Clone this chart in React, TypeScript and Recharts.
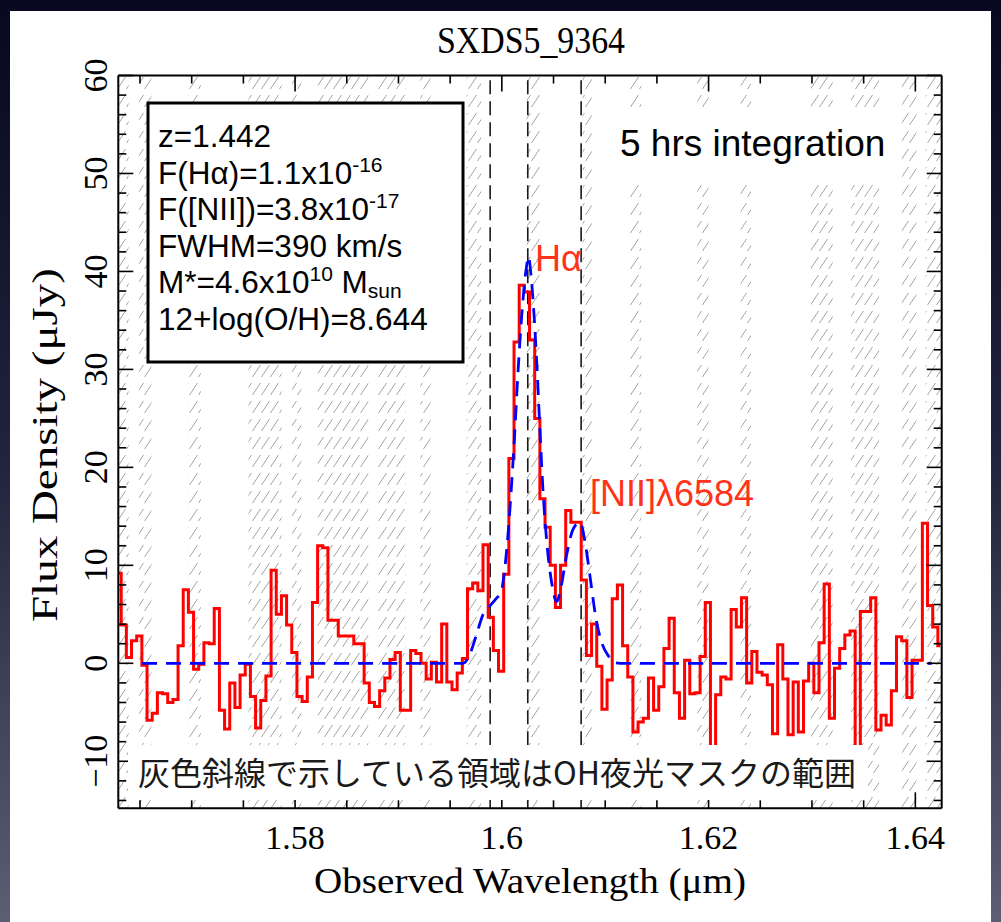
import React from "react";
import {
  ComposedChart,
  Line,
  XAxis,
  YAxis,
  ReferenceArea,
  ReferenceLine,
} from "recharts";

// spectrum: 0.0005 um bins, flux density in uJy
const binStart = 1.56293;
const binWidth = 0.0005;
const flux = [
  9.2, 3.9, 0.6, 2.3, 2.8, -0.2, -5.8, -5.1, -3.0, -3.1,
  -4.0, -3.7, 1.8, 7.5, 5.2, -0.6, -0.1, 2.1, 2.0, 5.6,
  -4.8, -6.7, -2.0, -4.5, -1.2, -0.1, -3.4, -6.6, -3.8, -1.3,
  9.5, 5.0, 6.9, 3.9, 1.1, -3.4, -3.9, -1.4, 6.2, 12.0,
  11.8, 4.4, 4.4, 2.8, 2.8, 2.8, 2.0, 2.0, -2.0, -4.0,
  -4.4, -2.8, -1.5, 0.4, 1.1, -4.8, -4.8, 1.3, 1.0, 0.0,
  -1.6, 0.1, -1.9, 4.0, -1.9, -2.7, -1.0, 0.5, 7.6, 8.2,
  7.4, 12.1, 4.7, 1.3, -0.8, 9.1, 20.9, 32.8, 38.6, 37.9,
  33.0, 25.0, 16.8, 13.9, 10.0, 5.7, 10.0, 15.6, 14.4, 14.4,
  8.5, 0.8, 4.0, -0.3, -4.7, -1.7, 6.6, 8.0, 1.8, -1.4,
  -7.0, -6.0, -5.6, -1.5, -4.8, -2.4, 1.5, 4.6, -3.0, -5.6,
  0.3, -3.1, -3.0, 0.7, 6.2, -12.0, -3.2, -1.4, -1.6, 5.5,
  3.7, 6.7, -2.0, 1.2, -0.9, -1.2, -2.2, -7.2, 1.9, -1.6,
  -7.3, -1.9, -7.0, -1.8, 0.0, -3.0, 2.1, 8.1, -5.6, -0.5,
  1.5, 2.9, 3.3, -12.0, 5.3, 5.3, 6.7, -6.8, -5.3, -6.3,
  -2.8, 2.7, 2.3, -3.5, 0.3, 0.3, 14.3, 5.9, 3.7, 1.8,
];

// fitted model (Halpha + [NII] doublet)
const modelWave = [
  1.5652, 1.59626, 1.59693, 1.59751, 1.59819, 1.59887, 1.59945, 1.59993,
  1.60032, 1.6008, 1.60119, 1.60158, 1.60196, 1.60235, 1.60259, 1.60283,
  1.60312, 1.60341, 1.6037, 1.60399, 1.60438, 1.60486, 1.6053, 1.60573,
  1.60622, 1.6069, 1.60757, 1.60806, 1.60854, 1.60912, 1.6097, 1.61028,
  1.61086, 1.61144, 1.6416,
];
const modelFlux = [
  0, 0, 1.0, 2.8, 5.0, 5.9, 6.6, 7.3,
  10.0, 16.0, 22.5, 30.0, 36.0, 40.2, 41.5, 39.5,
  35.5, 30.0, 23.5, 17.5, 12.0, 8.0, 6.3, 7.8,
  10.8, 13.7, 14.4, 12.3, 8.8, 4.5, 2.0, 0.8,
  0.1, 0, 0,
];

// OH sky-line mask ranges (um)
const maskBands: [number, number][] = [
  [1.5629, 1.5639], [1.5649, 1.5661], [1.5697, 1.5709], [1.5755, 1.5787],
  [1.5797, 1.5806], [1.5822, 1.5871], [1.588, 1.5907], [1.5921, 1.5931],
  [1.5966, 1.598], [1.6024, 1.6037], [1.6078, 1.6087], [1.6124, 1.6135],
  [1.6189, 1.62], [1.6231, 1.6241], [1.6299, 1.632], [1.6338, 1.6365],
  [1.6387, 1.6401], [1.641, 1.64255],
];

// [NII]6548, Halpha, [NII]6584 at z=1.442
const lineWaves = [1.59887, 1.60251, 1.60767];

const xDomain = [1.5629, 1.64255];
const yDomain = [-14.8, 60];
const xTicks = [
  1.565, 1.57, 1.575, 1.58, 1.585, 1.59, 1.595, 1.6, 1.605, 1.61, 1.615,
  1.62, 1.625, 1.63, 1.635, 1.64,
];
const xLabels = [1.58, 1.6, 1.62, 1.64];
const yTicks = [
  -14, -12, -10, -8, -6, -4, -2, 0, 2, 4, 6, 8, 10, 12, 14, 16, 18, 20, 22,
  24, 26, 28, 30, 32, 34, 36, 38, 40, 42, 44, 46, 48, 50, 52, 54, 56, 58, 60,
];
const yLabels = [-10, 0, 10, 20, 30, 40, 50, 60];

const spectrum = flux.map((f, i) => ({ w: binStart + i * binWidth, f }));
const model = modelWave.map((w, i) => ({ w, m: modelFlux[i] }));

const serif = "'Liberation Serif', 'DejaVu Serif', serif";
const sans = "'Liberation Sans', Arial, sans-serif";
const isIn = (list: number[], v: number) => list.some((t) => Math.abs(t - v) < 1e-9);

const BottomTick = (p: any) => {
  const major = isIn(xLabels, p.payload.value);
  return (
    <g>
      <line x1={p.x} x2={p.x} y1={p.y} y2={p.y - (major ? 16 : 8)} stroke="#000" strokeWidth={1.6} />
      {major && (
        <text x={p.x} y={p.y + 41} textAnchor="middle" fontFamily={serif} fontSize={34} fill="#000">
          {String(p.payload.value)}
        </text>
      )}
    </g>
  );
};

const TopTick = (p: any) => {
  const major = isIn(xLabels, p.payload.value);
  return <line x1={p.x} x2={p.x} y1={p.y} y2={p.y + (major ? 16 : 8)} stroke="#000" strokeWidth={1.6} />;
};

const LeftTick = (p: any) => {
  const v = p.payload.value;
  const major = isIn(yLabels, v);
  const tx = p.x - 23;
  return (
    <g>
      <line x1={p.x} x2={p.x + (major ? 15 : 8)} y1={p.y} y2={p.y} stroke="#000" strokeWidth={1.6} />
      {major && (
        <text
          x={tx}
          y={p.y}
          transform={`rotate(-90 ${tx} ${p.y})`}
          textAnchor="middle"
          dominantBaseline="central"
          fontFamily={serif}
          fontSize={34}
          fill="#000"
        >
          {v < 0 ? `\u2212${Math.abs(v)}` : String(v)}
        </text>
      )}
    </g>
  );
};

const RightTick = (p: any) => {
  const major = isIn(yLabels, p.payload.value);
  return <line x1={p.x} x2={p.x - (major ? 15 : 8)} y1={p.y} y2={p.y} stroke="#000" strokeWidth={1.6} />;
};

const axisLine = { stroke: "#000", strokeWidth: 2 };

export default function App() {
  return (
    <div
      style={{
        position: "absolute",
        left: 0,
        top: 0,
        width: 1001,
        height: 922,
        background: "linear-gradient(180deg, #080820 0%, #20243c 50%, #5c5e72 100%)",
        overflow: "hidden",
      }}
    >
      <div style={{ position: "absolute", left: 10, top: 11, width: 981, height: 911, background: "#fff" }} />

      <svg width={0} height={0} style={{ position: "absolute" }}>
        <defs>
          <pattern id="ohHatch" patternUnits="userSpaceOnUse" width={9} height={18}>
            <line x1={0.5} y1={17} x2={8.5} y2={5} stroke="#a4a4a4" strokeWidth={1} />
          </pattern>
        </defs>
      </svg>

      <div style={{ position: "absolute", left: 0, top: 0 }}>
        <ComposedChart
          width={1001}
          height={922}
          margin={{ top: 74.5, right: 58.3, bottom: 112.7, left: 117.3 }}
        >
          <XAxis
            xAxisId="b"
            dataKey="w"
            type="number"
            domain={xDomain}
            allowDataOverflow
            ticks={xTicks}
            interval={0}
            height={1}
            tickSize={0}
            tickMargin={0}
            tickLine={false}
            tick={<BottomTick />}
            axisLine={axisLine}
          />
          <XAxis
            xAxisId="t"
            orientation="top"
            dataKey="w"
            type="number"
            domain={xDomain}
            allowDataOverflow
            ticks={xTicks}
            interval={0}
            height={1}
            tickSize={0}
            tickMargin={0}
            tickLine={false}
            tick={<TopTick />}
            axisLine={axisLine}
          />
          <YAxis
            yAxisId="l"
            type="number"
            domain={yDomain}
            allowDataOverflow
            ticks={yTicks}
            interval={0}
            width={1}
            tickSize={0}
            tickMargin={0}
            tickLine={false}
            tick={<LeftTick />}
            axisLine={axisLine}
          />
          <YAxis
            yAxisId="r"
            orientation="right"
            type="number"
            domain={yDomain}
            allowDataOverflow
            ticks={yTicks}
            interval={0}
            width={1}
            tickSize={0}
            tickMargin={0}
            tickLine={false}
            tick={<RightTick />}
            axisLine={axisLine}
          />

          {maskBands.map(([a, b], i) => (
            <ReferenceArea
              key={`m${i}`}
              xAxisId="b"
              yAxisId="l"
              x1={a}
              x2={b}
              fill="url(#ohHatch)"
              fillOpacity={1}
              stroke="none"
            />
          ))}
          {lineWaves.map((w, i) => (
            <ReferenceLine
              key={`l${i}`}
              xAxisId="b"
              yAxisId="l"
              x={w}
              stroke="#1a1a1a"
              strokeWidth={1.6}
              strokeDasharray="14 7"
            />
          ))}

          <Line
            xAxisId="b"
            yAxisId="l"
            data={spectrum}
            dataKey="f"
            type="step"
            stroke="#ff0000"
            strokeWidth={3}
            dot={false}
            activeDot={false}
            isAnimationActive={false}
          />
          <Line
            xAxisId="b"
            yAxisId="l"
            data={model}
            dataKey="m"
            type="monotone"
            stroke="#0000ff"
            strokeWidth={2.8}
            strokeDasharray="15 9"
            dot={false}
            activeDot={false}
            isAnimationActive={false}
          />
        </ComposedChart>
      </div>

      <svg
        width={1001}
        height={922}
        style={{ position: "absolute", left: 0, top: 0, pointerEvents: "none" }}
      >
        <text x={531} y={53} textAnchor="middle" fontFamily={serif} fontSize={38} textLength={188} lengthAdjust="spacingAndGlyphs">
          SXDS5_9364
        </text>
        <text x={530} y={893} textAnchor="middle" fontFamily={serif} fontSize={36} textLength={432} lengthAdjust="spacingAndGlyphs">
          Observed Wavelength (μm)
        </text>
        <text
          x={57}
          y={445}
          transform="rotate(-90 57 445)"
          textAnchor="middle"
          fontFamily={serif}
          fontSize={36}
          textLength={354}
          lengthAdjust="spacingAndGlyphs"
        >
          Flux Density (μJy)
        </text>

        <rect x={148} y={103} width={315} height={259} fill="#fff" stroke="#000" strokeWidth={3} />
        <g fontFamily={sans} fontSize={31.5} fill="#000">
          <text x={158} y={147}>z=1.442</text>
          <text x={158} y={183.5}>
            F(Hα)=1.1x10<tspan dy={-12} fontSize={21}>-16</tspan>
          </text>
          <text x={158} y={220}>
            F([NII])=3.8x10<tspan dy={-12} fontSize={21}>-17</tspan>
          </text>
          <text x={158} y={256.5}>FWHM=390 km/s</text>
          <text x={158} y={293}>
            M*=4.6x10<tspan dy={-12} fontSize={21}>10</tspan>
            <tspan dy={12}> M</tspan>
            <tspan dy={5} fontSize={21}>sun</tspan>
          </text>
          <text x={158} y={329.5}>12+log(O/H)=8.644</text>
        </g>

        <rect x={615} y={112} width={285} height={68} fill="#fff" />
        <text x={620} y={156} fontFamily={sans} fontSize={37} fill="#000">
          5 hrs integration
        </text>

        <text x={535} y={271} fontFamily={sans} fontSize={36} fill="#ff3319">
          Hα
        </text>
        <text x={590} y={506} fontFamily={sans} fontSize={36} fill="#ff3319">
          [NII]λ6584
        </text>

        <rect x={128} y={745} width={740} height={55} fill="#fff" />
        <text x={138} y={785} fontFamily="'Noto Sans CJK JP', sans-serif" fontSize={32} fill="#1a1a1a">
          灰色斜線で示している領域はOH夜光マスクの範囲
        </text>
      </svg>
    </div>
  );
}
